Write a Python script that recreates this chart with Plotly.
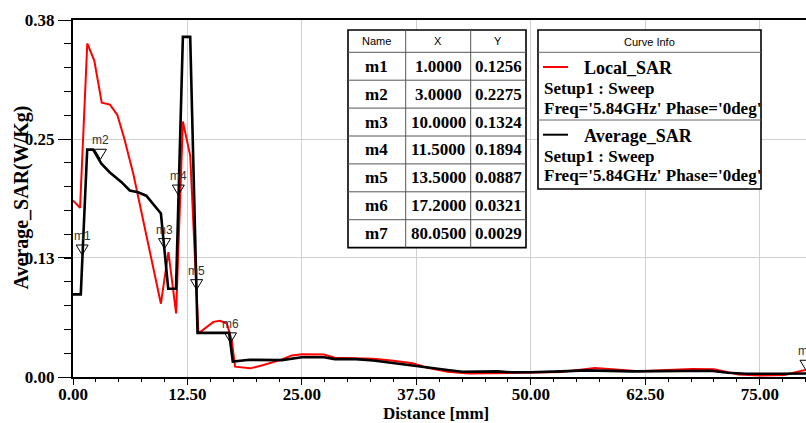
import plotly.graph_objects as go

# ---------------- data ----------------
distance_local = [0.0, 0.77, 1.56, 2.33, 3.14, 4.04, 4.84, 5.57, 6.59, 9.6, 10.42, 11.26, 12.0, 12.8,
                  13.7, 15.33, 16.07, 16.8, 17.34, 17.7, 19.35, 20.8, 22.6, 23.9, 25.0, 27.4, 28.6,
                  30.9, 32.8, 34.75, 37.1, 38.6, 40.9, 43.3, 46.4, 50.0, 53.3, 57.0, 59.9, 61.8,
                  64.9, 67.6, 70.0, 72.7, 75.0, 77.7, 79.6, 80.05]
local_sar = [0.188, 0.180, 0.355, 0.3365, 0.292, 0.290, 0.279, 0.255, 0.216, 0.078, 0.133, 0.0676,
             0.272, 0.2357, 0.0464, 0.0587, 0.0598, 0.057, 0.039, 0.011, 0.0092, 0.0127, 0.018,
             0.023, 0.0243, 0.024, 0.0206, 0.020, 0.0195, 0.0176, 0.0146, 0.0101, 0.0056, 0.0037,
             0.004, 0.0045, 0.0052, 0.0097, 0.0075, 0.006, 0.0075, 0.0086, 0.0082, 0.0026, 0.0015,
             0.0022, 0.0067, 0.0075]

distance_avg = [0.0, 0.85, 1.55, 2.2, 3.1, 4.0, 5.3, 6.2, 7.1, 8.0, 9.6, 10.4, 11.25, 12.0, 12.8,
                13.6, 17.05, 17.45, 19.3, 22.8, 25.0, 27.4, 28.6, 30.9, 32.8, 34.75, 36.3, 38.6,
                40.9, 42.5, 46.4, 47.9, 50.0, 53.3, 56.0, 61.1, 69.6, 71.5, 73.5, 77.3, 80.05]
average_sar = [0.088, 0.088, 0.242, 0.242, 0.227, 0.218, 0.2074, 0.1985, 0.1967, 0.193, 0.174,
               0.094, 0.094, 0.362, 0.362, 0.047, 0.047, 0.0165, 0.0183, 0.018, 0.021, 0.021,
               0.019, 0.019, 0.0176, 0.015, 0.0135, 0.0101, 0.0075, 0.0056, 0.006, 0.005, 0.005,
               0.006, 0.007, 0.006, 0.0067, 0.0045, 0.0034, 0.0034, 0.0037]

series_names = ["Local_SAR", "Average_SAR"]
series_colors = ["#ff0000", "#000000"]
setup_line = "Setup1 : Sweep"
freq_line = "Freq='5.84GHz' Phase='0deg'"

marker_names = ["m1", "m2", "m3", "m4", "m5", "m6", "m7"]
marker_x = [1.0, 3.0, 10.0, 11.5, 13.5, 17.2, 80.05]
marker_y = [0.1256, 0.2275, 0.1324, 0.1894, 0.0887, 0.0321, 0.0029]

x_tick_vals = [0, 12.5, 25, 37.5, 50, 62.5, 75]
x_tick_text = ["0.00", "12.50", "25.00", "37.50", "50.00", "62.50", "75.00"]
y_tick_vals = [0.0, 0.1267, 0.2533, 0.38]
y_tick_text = ["0.00", "0.13", "0.25", "0.38"]

x_title = "Distance [mm]"
y_title = "Average_SAR(W/Kg)"

# ---------------- layout helpers ----------------
W, H = 806, 423
L, R, T, B = 73, 0, 20, 46
PW, PH = W - L - R, H - T - B


def fx(p):
    return (p - L) / PW


def fy(p):
    return (H - B - p) / PH


SERIF = "Liberation Serif"
SANS = "Liberation Sans"

fig = go.Figure()
fig.add_trace(go.Scatter(x=distance_local, y=local_sar, mode="lines", name=series_names[0],
                         line=dict(color=series_colors[0], width=2)))
fig.add_trace(go.Scatter(x=distance_avg, y=average_sar, mode="lines", name=series_names[1],
                         line=dict(color=series_colors[1], width=2.6)))

shapes = []
annotations = []

# markers (open down-triangles above the point) and their labels
for name, mx, my in zip(marker_names, marker_x, marker_y):
    shapes.append(dict(type="path", xref="x", yref="y", xsizemode="pixel", ysizemode="pixel",
                       xanchor=mx, yanchor=my, path="M -6,14 L 6,14 L 0,4 Z",
                       line=dict(color="black", width=1), fillcolor="rgba(0,0,0,0)"))
    annotations.append(dict(x=mx, y=my, xref="x", yref="y", text=name, showarrow=False,
                            yshift=23, font=dict(family=SANS, size=12, color="#333333")))

# ---------------- marker table ----------------
tab_left, tab_top = 348, 30
col_edges = [348, 405.7, 470.7, 526]
header_h, row_h = 22.3, 27.9
row_edges = [tab_top, tab_top + header_h] + [tab_top + header_h + row_h * (i + 1) for i in range(len(marker_names))]
tab_bottom = row_edges[-1]

shapes.append(dict(type="rect", xref="paper", yref="paper", x0=fx(col_edges[0]), x1=fx(col_edges[-1]),
                   y0=fy(tab_bottom), y1=fy(tab_top), fillcolor="white", line=dict(color="black", width=1.6),
                   layer="above"))
for ce in col_edges[1:-1]:
    shapes.append(dict(type="line", xref="paper", yref="paper", x0=fx(ce), x1=fx(ce),
                       y0=fy(tab_bottom), y1=fy(tab_top), line=dict(color="#555555", width=1)))
for re_ in row_edges[1:-1]:
    shapes.append(dict(type="line", xref="paper", yref="paper", x0=fx(col_edges[0]), x1=fx(col_edges[-1]),
                       y0=fy(re_), y1=fy(re_), line=dict(color="#555555", width=1)))

col_centers = [(col_edges[i] + col_edges[i + 1]) / 2 for i in range(3)]
for txt, cx in zip(["Name", "X", "Y"], col_centers):
    annotations.append(dict(x=fx(cx), y=fy((row_edges[0] + row_edges[1]) / 2), xref="paper", yref="paper",
                            text=txt, showarrow=False, xanchor="center", yanchor="middle",
                            font=dict(family=SANS, size=11, color="black")))
for i, (name, mx, my) in enumerate(zip(marker_names, marker_x, marker_y)):
    cy = (row_edges[i + 1] + row_edges[i + 2]) / 2
    for txt, cx in zip([name, f"{mx:.4f}", f"{my:.4f}"], col_centers):
        annotations.append(dict(x=fx(cx), y=fy(cy), xref="paper", yref="paper", text=txt,
                                showarrow=False, xanchor="center", yanchor="middle",
                                font=dict(family=SERIF, size=17, color="black", weight="bold")))

# ---------------- curve info box ----------------
lg_left, lg_right, lg_top, lg_bottom = 538, 761, 30, 189
lg_sep = [52.3, 120]
shapes.append(dict(type="rect", xref="paper", yref="paper", x0=fx(lg_left), x1=fx(lg_right),
                   y0=fy(lg_bottom), y1=fy(lg_top), fillcolor="white", line=dict(color="black", width=1.6)))
for s in lg_sep:
    shapes.append(dict(type="line", xref="paper", yref="paper", x0=fx(lg_left), x1=fx(lg_right),
                       y0=fy(s), y1=fy(s), line=dict(color="#666666", width=1)))
annotations.append(dict(x=fx((lg_left + lg_right) / 2), y=fy(41.5), xref="paper", yref="paper",
                        text="Curve Info", showarrow=False, xanchor="center", yanchor="middle",
                        font=dict(family=SANS, size=11, color="black")))
for k, (nm, col) in enumerate(zip(series_names, series_colors)):
    base = 68 + k * 67.7
    shapes.append(dict(type="line", xref="paper", yref="paper", x0=fx(543), x1=fx(568),
                       y0=fy(base - 1), y1=fy(base - 1), line=dict(color=col, width=2)))
    annotations.append(dict(x=fx(582), y=fy(base), xref="paper", yref="paper", text=nm,
                            showarrow=False, xanchor="left", yanchor="middle",
                            font=dict(family=SERIF, size=18, color="black", weight="bold")))
    annotations.append(dict(x=fx(542), y=fy(base + 21), xref="paper", yref="paper", text=setup_line,
                            showarrow=False, xanchor="left", yanchor="middle",
                            font=dict(family=SERIF, size=17, color="black", weight="bold")))
    annotations.append(dict(x=fx(542), y=fy(base + 40), xref="paper", yref="paper", text=freq_line,
                            showarrow=False, xanchor="left", yanchor="middle",
                            font=dict(family=SERIF, size=17, color="black", weight="bold")))

# axis titles
annotations.append(dict(x=fx(436), y=fy(413), xref="paper", yref="paper", text=x_title, showarrow=False,
                        xanchor="center", yanchor="middle",
                        font=dict(family=SERIF, size=17, color="black", weight="bold")))
annotations.append(dict(x=fx(21), y=fy(197.5), xref="paper", yref="paper", text=y_title, showarrow=False,
                        xanchor="center", yanchor="middle", textangle=-90,
                        font=dict(family=SERIF, size=20, color="black", weight="bold")))

tickfont = dict(family=SERIF, size=17, color="black", weight="bold")

fig.update_layout(
    width=W, height=H, margin=dict(l=L, r=R, t=T, b=B, pad=0),
    plot_bgcolor="white", paper_bgcolor="white", showlegend=False,
    shapes=shapes, annotations=annotations,
    xaxis=dict(range=[0, 80.05], tickmode="array", tickvals=x_tick_vals, ticktext=x_tick_text,
               ticks="outside", ticklen=6, tickwidth=1, tickcolor="black", tickfont=tickfont,
               ticklabelstandoff=-5,
               showline=True, linecolor="black", linewidth=2, mirror=True,
               showgrid=True, gridcolor="#d0d0d0", gridwidth=1, zeroline=False,
               minor=dict(tickmode="linear", tick0=0, dtick=2.5, ticks="outside", ticklen=3,
                          tickcolor="black", showgrid=False)),
    yaxis=dict(range=[0, 0.38], tickmode="array", tickvals=y_tick_vals, ticktext=y_tick_text,
               ticks="outside", ticklen=13, tickwidth=1, tickcolor="black", tickfont=tickfont,
               showline=True, linecolor="black", linewidth=2,
               showgrid=True, gridcolor="#d0d0d0", gridwidth=1, zeroline=False,
               minor=dict(tickmode="linear", tick0=0, dtick=0.38 / 15, ticks="outside", ticklen=7,
                          tickcolor="black", showgrid=False)),
)

fig.write_html("out.html")
